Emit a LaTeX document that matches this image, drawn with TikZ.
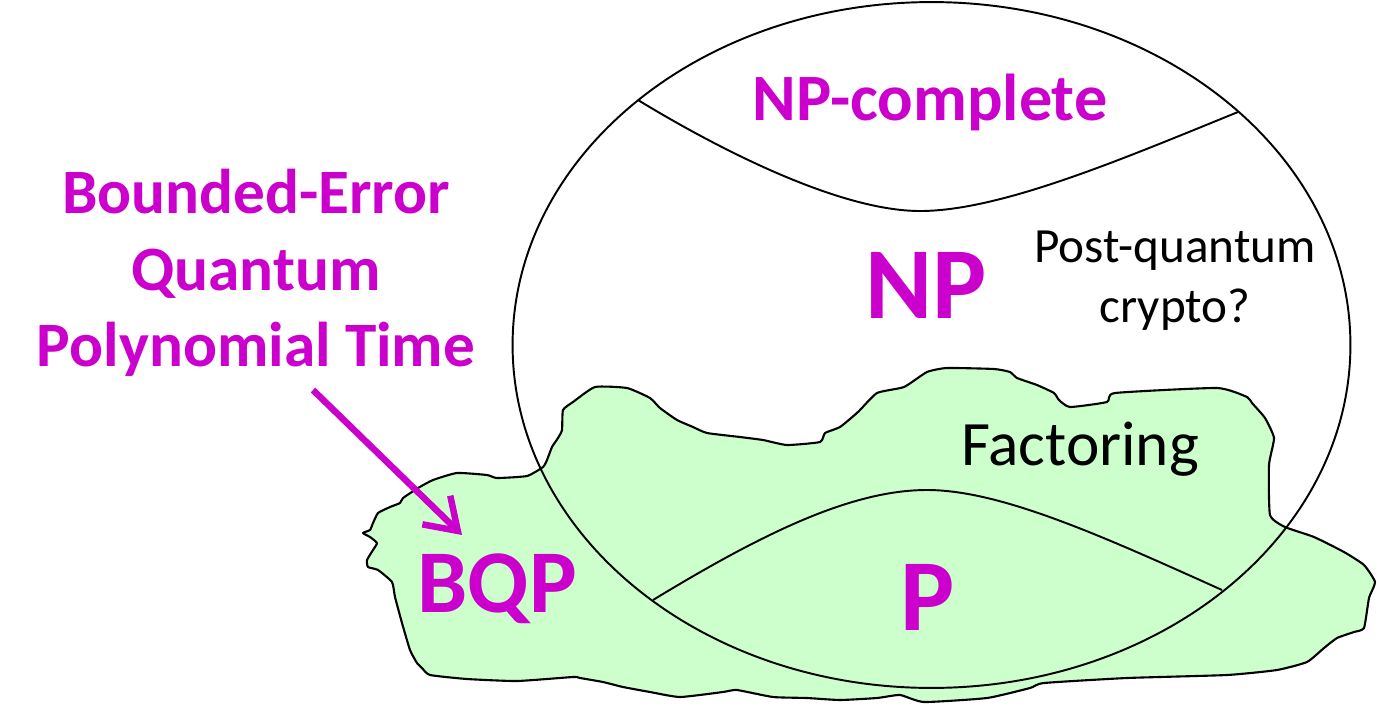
\documentclass[tikz,border=0pt]{standalone}
\usepackage{fontspec}
\setmainfont{Carlito}
\usetikzlibrary{arrows.meta}
\definecolor{classmag}{RGB}{204,0,204}
\definecolor{bqpgreen}{RGB}{204,255,204}
\tikzset{
  classname/.style={text=classmag, inner sep=0pt, font=\bfseries\fontsize{#1}{#1}\selectfont},
  plainlabel/.style={text=black, inner sep=0pt, font=\fontsize{#1}{#1}\selectfont},
  border/.style={line width=1.1pt},
}

\begin{document}
\begin{tikzpicture}[x=0.02cm,y=-0.02cm]
  \useasboundingbox (0,0) rectangle (1377,721);
  % BQP
  \filldraw[fill=bqpgreen, draw=black, line width=1.2pt, line join=round]
    plot[smooth cycle, tension=0.3] coordinates {
      (543,467) (547,460) (552,447) (558,438) (562,430) (563,410) (573,402)
      (595,387) (627,388) (650,398) (660,408) (677,420) (693,427) (707,433)
      (740,437) (763,440) (787,445) (820,442) (825,433) (840,427) (858,412)
      (877,393) (904,387) (927,372) (947,368) (994,369) (1010,372) (1017,378)
      (1037,385) (1054,393) (1059,400) (1070,407) (1107,402) (1115,393)
      (1217,388) (1247,397) (1252,403) (1265,418) (1274,438) (1269,465)
      (1270,515) (1285,527) (1314,537) (1344,552) (1364,565) (1375,582)
      (1369,598) (1364,628) (1354,632) (1337,638) (1324,648) (1307,662)
      (1277,670) (1227,675) (1127,678) (1044,683) (1030,688) (987,698)
      (924,702) (900,695) (877,698) (840,700) (807,698) (773,697) (737,690)
      (723,692) (680,697) (650,692) (623,687) (603,682) (580,678) (573,677)
      (517,681) (467,679) (430,675) (422,668) (417,663) (410,650) (402,623)
      (395,597) (392,582) (378,570) (368,567) (367,560) (373,550) (377,543)
      (370,537) (363,533) (370,530) (373,523) (378,513) (390,507) (400,503)
      (403,498) (418,488) (433,480) (457,473) (487,475) (497,478) (527,476)};
  % NP
  \coordinate (npc) at (931.5,345);
  \draw[border] (npc) ellipse [x radius=8.38cm, y radius=6.86cm];
  \coordinate (cl) at (638,100);
  \coordinate (cr) at (1238,112);
  \coordinate (pl) at (653,600);
  \coordinate (pr) at (1222,590);
  \draw[border] (cl) .. controls (720,150) and (840,211) .. (920,211)
                     .. controls (1000,211) and (1120,160) .. (cr);
  \draw[border] (pl) .. controls (760,535) and (850,490) .. (927,490)
                     .. controls (1000,490) and (1100,535) .. (pr);

  \node[classname=37.7, anchor=base] (npcomplete) at (930,120) {NP-complete};
  \node[classname=58, anchor=base] (np) at (926,318) {NP};
  \node[classname=58, anchor=base] (p) at (928,630) {P};
  \node[classname=51, anchor=base] (bqp) at (497,612) {BQP};
  \node[plainlabel=36, anchor=base] (factoring) at (1080,465) {Factoring};
  \node[plainlabel=28, anchor=base] (pq) at (1175,262) {Post-quantum};
  \node[plainlabel=28, anchor=base] (crypto) at (1175,322) {crypto?};
  \node[text=classmag, align=center, inner sep=0pt,
        font=\bfseries\fontsize{36}{43.4}\selectfont] (bqpname) at (256,273)
        {Bounded-Error\\Quantum\\Polynomial Time};

  \coordinate (tail) at (313,390);
  \coordinate (head) at (462,535);
  \draw[classmag, line width=3.7pt, -{Straight Barb[length=6mm,width=8mm]}] (tail) -- (head);
\end{tikzpicture}
\end{document}
